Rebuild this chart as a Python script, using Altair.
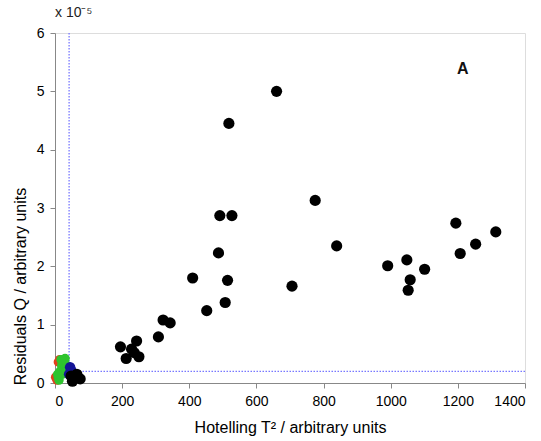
import altair as alt
import pandas as pd

# ---- data (Q in units of 1e-5) ----
black_T = [660, 518, 775, 491, 527, 487, 839, 410, 514, 706, 507, 452,
           1194, 1313, 1253, 1207, 1048, 991, 1101, 1058, 1052,
           308, 322, 343, 195, 212, 228, 243, 250, 236,
           48, 58, 65, 75, 52]
black_Q = [5.00, 4.45, 3.13, 2.87, 2.87, 2.23, 2.35, 1.80, 1.76, 1.66, 1.38, 1.24,
           2.74, 2.59, 2.38, 2.22, 2.11, 2.01, 1.95, 1.77, 1.59,
           0.79, 1.08, 1.03, 0.62, 0.42, 0.58, 0.72, 0.45, 0.52,
           0.12, 0.08, 0.15, 0.07, 0.03]
green_T = [10, 15, 20, 25, 30, 35, 22, 28, 12, 18, 32, 8]
green_Q = [0.10, 0.20, 0.30, 0.35, 0.42, 0.30, 0.15, 0.25, 0.05, 0.40, 0.20, 0.15]
red_T = [2, 10, 14, 20, 6]
red_Q = [0.10, 0.36, 0.40, 0.36, 0.05]
blue_T = [42, 48, 52, 45]
blue_Q = [0.15, 0.22, 0.12, 0.27]

T2_limit = [42]
Q_limit = [0.2]

label_T = [1215]
label_Q = [5.38]
label_text = ["A"]

x_ticks = [0, 200, 400, 600, 800, 1000, 1200, 1400]
y_ticks = [0, 1, 2, 3, 4, 5, 6]

def df(T, Q, g):
    return pd.DataFrame({"T": T, "Q": Q, "g": [g] * len(T)})

xs = alt.Scale(domain=[0, 1400], nice=False)
ys = alt.Scale(domain=[0, 6], nice=False)

x_axis = alt.Axis(values=x_ticks, format="d", title="Hotelling T² / arbitrary units", grid=False,
                  labelFontSize=14, titleFontSize=16, labelPadding=6,
                  titleFontWeight="normal", titlePadding=11)
y_axis = alt.Axis(values=y_ticks, format="d", title="Residuals Q / arbitrary units", grid=False,
                  labelFontSize=14, titleFontSize=16, labelPadding=6,
                  titleFontWeight="normal", titleY=253, titleX=-35,
                  titleAngle=-90, titleBaseline="middle", titleAlign="center")

def pts(data, color, size):
    return alt.Chart(data).mark_circle(color=color, size=size, opacity=1).encode(
        x=alt.X("T:Q", scale=xs, axis=x_axis),
        y=alt.Y("Q:Q", scale=ys, axis=y_axis),
    )

vline = alt.Chart(pd.DataFrame({"T": T2_limit})).mark_rule(
    color="#7878ff", strokeDash=[1.5, 1.5], strokeWidth=1.3).encode(
    x=alt.X("T:Q", scale=xs, axis=x_axis))
hline = alt.Chart(pd.DataFrame({"Q": Q_limit})).mark_rule(
    color="#7878ff", strokeDash=[1.5, 1.5], strokeWidth=1.3).encode(
    y=alt.Y("Q:Q", scale=ys, axis=y_axis))

label = alt.Chart(pd.DataFrame({"T": label_T, "Q": label_Q, "t": label_text})).mark_text(
    fontSize=16, fontWeight="bold", color="#111").encode(
    x=alt.X("T:Q", scale=xs, axis=x_axis),
    y=alt.Y("Q:Q", scale=ys, axis=y_axis),
    text="t:N")

chart = alt.layer(
    vline, hline,
    pts(df(red_T, red_Q, "r"), "#e0401e", 90),
    pts(df(green_T, green_Q, "g"), "#2ec42e", 90),
    pts(df(blue_T, blue_Q, "b"), "#141496", 110),
    pts(df(black_T, black_Q, "k"), "#000000", 125),
    label,
).properties(
    width=470, height=350,
    autosize=alt.AutoSizeParams(type="none"),
    padding={"left": 55, "top": 33, "right": 16, "bottom": 58},
    title=alt.TitleParams("x 10⁻⁵", anchor="start", frame="group", fontSize=14,
                          fontWeight="normal", offset=6, color="#222"),
).configure_view(stroke="#888888", strokeWidth=1.5).configure_axis(
    domainColor="#888888", domainWidth=1.5, tickColor="#888888", tickSize=3,
    labelColor="#222", titleColor="#222", labelFont="Liberation Sans",
    titleFont="Liberation Sans",
).configure_title(font="Liberation Sans").configure(background="white")

chart.save("out.html", embed_options={"renderer": "svg", "actions": False})
